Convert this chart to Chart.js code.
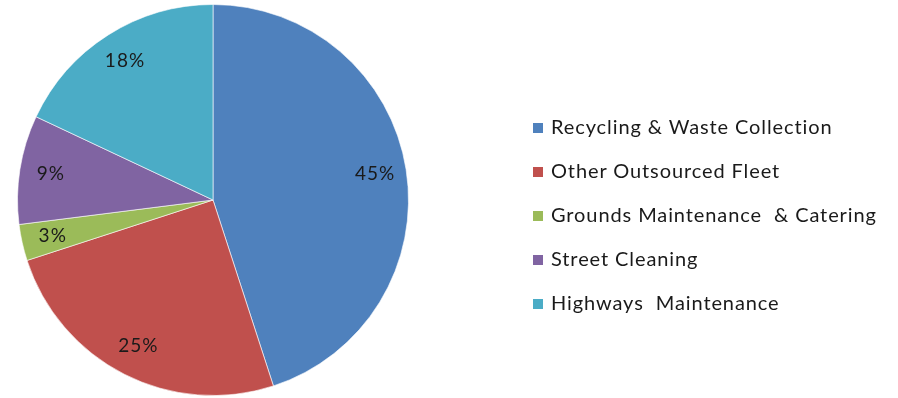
<!DOCTYPE html>
<html>
<head>
<meta charset="utf-8">
<script src="https://cdn.jsdelivr.net/npm/chart.js@4"></script>
<style>
  html, body { margin: 0; padding: 0; background: #fff; }
  #wrap { position: relative; width: 898px; height: 398px; }
  #pieChart { position: absolute; left: 0; top: 0; }
  #legend { position: absolute; left: 533px; top: 113px; font-family: Lato, sans-serif; font-size: 20px; letter-spacing: 0.9px; color: #1a1a1a; }
  #legend div { height: 44px; line-height: 26px; white-space: pre; }
  #legend span.box { display: inline-block; width: 10px; height: 10px; margin-right: 8px; vertical-align: 1px; }
</style>
</head>
<body>
<div id="wrap">
  <canvas id="pieChart" width="898" height="398"></canvas>
  <div id="legend"></div>
</div>
<script>
const categories = ['Recycling & Waste Collection', 'Other Outsourced Fleet', 'Grounds Maintenance  & Catering', 'Street Cleaning', 'Highways  Maintenance'];
const shares = [45, 25, 3, 9, 18];
const colours = ['#4F81BD', '#C0504D', '#9BBB59', '#8064A2', '#4BACC6'];

// percentage labels inside the slices
const sliceLabels = {
    id: 'sliceLabels',
    afterDatasetsDraw(chart) {
        const c = chart.ctx;
        const meta = chart.getDatasetMeta(0);
        const total = shares.reduce((a, b) => a + b, 0);
        c.save();
        c.font = '19px Lato, sans-serif';
        c.letterSpacing = '1px';
        c.fillStyle = '#1a1a1a';
        c.textAlign = 'center';
        c.textBaseline = 'middle';
        meta.data.forEach((arc, i) => {
            const p = arc.getProps(['x', 'y', 'startAngle', 'endAngle', 'outerRadius'], true);
            const mid = (p.startAngle + p.endAngle) / 2;
            const r = p.outerRadius * 0.84;
            c.fillText(Math.round(shares[i] / total * 100) + '%', p.x + Math.cos(mid) * r, p.y + Math.sin(mid) * r);
        });
        c.restore();
    }
};

new Chart(document.getElementById('pieChart').getContext('2d'), {
    type: 'pie',
    data: {
        labels: categories,
        datasets: [{
            data: shares,
            backgroundColor: colours,
            borderColor: 'rgba(255,255,255,0.6)',
            borderWidth: 1
        }]
    },
    options: {
        responsive: false,
        animation: false,
        layout: { padding: { left: 17, top: 4, bottom: 2, right: 489 } },
        plugins: {
            legend: { display: false },
            tooltip: { enabled: false }
        }
    },
    plugins: [sliceLabels]
});

const legend = document.getElementById('legend');
categories.forEach((name, i) => {
    const row = document.createElement('div');
    const box = document.createElement('span');
    box.className = 'box';
    box.style.background = colours[i];
    row.appendChild(box);
    row.appendChild(document.createTextNode(name));
    legend.appendChild(row);
});
</script>
</body>
</html>
